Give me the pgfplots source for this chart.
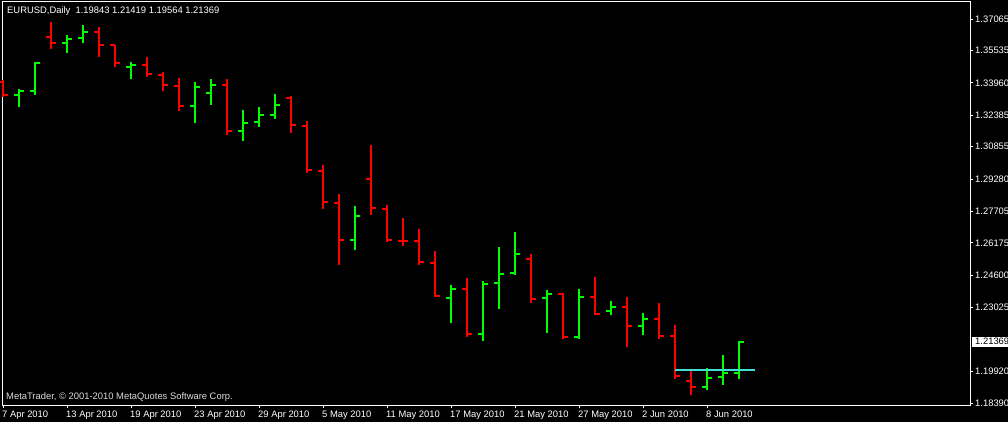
\documentclass[border=0pt]{standalone}
\usepackage{pgfplots}
\usepackage{pgfplotstable}
\usepackage{fontspec}
\setmainfont{Liberation Sans}
\pgfplotsset{compat=1.18}

\definecolor{mtred}{RGB}{255,0,0}
\definecolor{mtgreen}{RGB}{0,255,0}
\definecolor{mtcyan}{RGB}{64,224,208}
\definecolor{mtgray}{RGB}{220,220,220}

% i = bar index (trading day), o h l c
\pgfplotstableread{
i o h l c
1 1.3337 1.3366 1.3279 1.3356
2 1.3356 1.3497 1.3337 1.3493
4 1.3590 1.3629 1.3541 1.3609
5 1.3614 1.3677 1.3590 1.3643
8 1.3473 1.3497 1.3415 1.3483
12 1.3283 1.3400 1.3201 1.3376
13 1.3347 1.3415 1.3288 1.3386
15 1.3162 1.3264 1.3113 1.3201
16 1.3206 1.3279 1.3181 1.3240
17 1.3240 1.3342 1.3220 1.3288
22 1.2632 1.2797 1.2583 1.2748
28 1.2350 1.2413 1.2228 1.2393
30 1.2175 1.2432 1.2141 1.2418
31 1.2423 1.2598 1.2296 1.2466
32 1.2471 1.2671 1.2461 1.2564
34 1.2350 1.2389 1.2179 1.2369
36 1.2160 1.2393 1.2150 1.2355
38 1.2286 1.2335 1.2267 1.2306
40 1.2214 1.2277 1.2170 1.2248
44 1.1917 1.2009 1.1902 1.1961
45 1.1965 1.2072 1.1927 1.1985
46 1.19843 1.21419 1.19564 1.21369
}\upbars

\pgfplotstableread{
i o h l c
0 1.3400 1.3410 1.3327 1.3337
3 1.3619 1.3692 1.3561 1.3590
6 1.3643 1.3668 1.3522 1.3580
7 1.3580 1.3582 1.3473 1.3493
9 1.3483 1.3522 1.3424 1.3439
10 1.3434 1.3449 1.3356 1.3386
11 1.3381 1.3420 1.3259 1.3283
14 1.3386 1.3415 1.3142 1.3162
18 1.3322 1.3332 1.3152 1.3191
19 1.3186 1.3210 1.2958 1.2972
20 1.2967 1.2996 1.2782 1.2817
21 1.2812 1.2855 1.2510 1.2632
23 1.2928 1.3094 1.2753 1.2787
24 1.2782 1.2802 1.2622 1.2632
25 1.2627 1.2739 1.2603 1.2625
26 1.2627 1.2685 1.2510 1.2525
27 1.2520 1.2578 1.2355 1.2359
29 1.2393 1.2447 1.2160 1.2175
33 1.2539 1.2564 1.2325 1.2345
35 1.2369 1.2374 1.2150 1.2160
37 1.2355 1.2452 1.2267 1.2272
39 1.2306 1.2355 1.2111 1.2214
41 1.2248 1.2325 1.2150 1.2165
42 1.2165 1.2218 1.1956 1.1970
43 1.1946 1.1995 1.1878 1.1917
}\downbars

\newcommand{\ohlc}[2]{%
  % high-low line
  \addplot[draw=none, forget plot, error bars/.cd, y dir=minus, y explicit,
    error mark=none, error bar style={#2, line width=2pt}]
    table[x=i, y=h, y error minus expr=\thisrow{h}-\thisrow{l}] {#1};
  % open tick
  \addplot[draw=none, forget plot, error bars/.cd, x dir=minus, x fixed=0.3,
    error mark=none, error bar style={#2, line width=2pt}]
    table[x=i, y=o] {#1};
  % close tick
  \addplot[draw=none, forget plot, error bars/.cd, x dir=plus, x fixed=0.3,
    error mark=none, error bar style={#2, line width=2pt}]
    table[x=i, y=c] {#1};
}
\newcommand{\mtfont}{\fontsize{9.4}{10}\selectfont}

\begin{document}
\begin{tikzpicture}[x=1pt,y=1pt]
\fill[black] (0,0) rectangle (1008,-422);
\begin{axis}[
  at={(2pt,-2pt)}, anchor=north west,
  scale only axis, width=968pt, height=403pt,
  xmin=-0.0625, xmax=60.4375,
  ymin=1.18293, ymax=1.37892,
  axis line style={white, line width=1pt},
  clip=false,
  tick align=outside,
  major tick length=3pt,
  tick style={white, line width=1pt},
  xtick pos=left, xticklabel pos=left,
  ytick pos=right, yticklabel pos=right,
  xtick={0,4,8,12,16,20,24,28,32,36,40,44},
  xticklabels={7 Apr 2010,13 Apr 2010,19 Apr 2010,23 Apr 2010,29 Apr 2010,5 May 2010,11 May 2010,17 May 2010,21 May 2010,27 May 2010,2 Jun 2010,8 Jun 2010},
  ytick={1.18390,1.19920,1.23025,1.24600,1.26175,1.27705,1.29280,1.30855,1.32385,1.33960,1.35535,1.37065},
  yticklabel style={/pgf/number format/fixed, /pgf/number format/fixed zerofill,
    /pgf/number format/precision=5, /pgf/number format/assume math mode=true,
    anchor=west, inner sep=0pt, xshift=2pt},
  xticklabel style={anchor=north west, inner sep=0pt, yshift=-2.5pt, xshift=-1pt},
  ticklabel style={text=white, font=\mtfont},
  scaled y ticks=false,
]
\ohlc{\upbars}{mtgreen}
\ohlc{\downbars}{mtred}
\addplot[mtcyan, line width=2pt, forget plot] coordinates {(42,1.2000) (47,1.2000)};
\node[fill=white, text=black, anchor=west, inner sep=0pt, minimum height=9.5pt,
  text width=40pt, xshift=2pt, font=\mtfont] at (axis cs:60.4375,1.21369) {\hspace*{3pt}1.21369};
\end{axis}
\node[anchor=west, text=white, inner sep=0pt, font=\mtfont]
  at (7,-11) {EURUSD,Daily\ \ 1.19843 1.21419 1.19564 1.21369};
\node[anchor=west, text=mtgray, inner sep=0pt, font=\mtfont]
  at (6,-397) {MetaTrader, © 2001-2010 MetaQuotes Software Corp.};
\pgfresetboundingbox
\useasboundingbox (0,0) rectangle (1008,-422);
\end{tikzpicture}
\end{document}
